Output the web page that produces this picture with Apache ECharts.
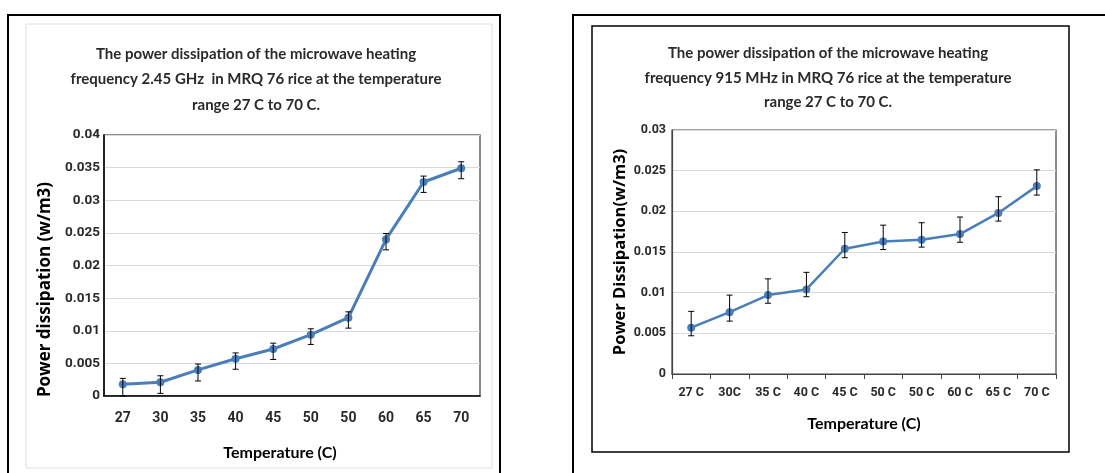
<!DOCTYPE html>
<html style="height: 100%">
    <head>
        <meta charset="utf-8">
        <script type="text/javascript" src="https://cdn.jsdelivr.net/npm/echarts@6/dist/echarts.min.js"></script>
    </head>
    <body style="height: 100%; margin: 0; background: #fff">
        <div id="main" style="width: 1105px; height: 473px"></div>
        <script type="text/javascript">
            // left chart: 2.45 GHz
            var tempsGHz = ['27', '30', '35', '40', '45', '50', '50', '60', '65', '70'];
            var powerGHz = [0.0018, 0.0021, 0.0040, 0.0057, 0.0072, 0.0094, 0.0120, 0.0240, 0.0328, 0.0349];
            var errLowGHz = [0.0000, 0.0004, 0.0023, 0.0041, 0.0056, 0.0079, 0.0104, 0.0224, 0.0312, 0.0333];
            var errHighGHz = [0.0027, 0.0031, 0.0049, 0.0066, 0.0081, 0.0103, 0.0129, 0.0249, 0.0337, 0.0359];

            // right chart: 915 MHz
            var tempsMHz = ['27 C', '30C', '35 C', '40 C', '45 C', '50 C', '50 C', '60 C', '65 C', '70 C'];
            var powerMHz = [0.0057, 0.0076, 0.0097, 0.0104, 0.0154, 0.0163, 0.0165, 0.0172, 0.0198, 0.0231];
            var errLowMHz = [0.0047, 0.0065, 0.0087, 0.0095, 0.0143, 0.0153, 0.0156, 0.0162, 0.0188, 0.0220];
            var errHighMHz = [0.0077, 0.0097, 0.0117, 0.0125, 0.0174, 0.0183, 0.0186, 0.0193, 0.0218, 0.0251];

            var font = 'Lato';
            var tickFont = 'Roboto';
            var textCol = '#2a2a2a';
            var blue = '#4a7ebb';

            function errData(low, high) {
                return low.map(function (v, i) { return [i, v, high[i]]; });
            }

            function errRender(params, api) {
                var lo = api.coord([api.value(0), api.value(1)]);
                var hi = api.coord([api.value(0), api.value(2)]);
                var s = { stroke: '#000', lineWidth: 1 };
                return {
                    type: 'group',
                    children: [
                        { type: 'line', shape: { x1: lo[0], y1: lo[1], x2: hi[0], y2: hi[1] }, style: s },
                        { type: 'line', shape: { x1: lo[0] - 3, y1: lo[1], x2: lo[0] + 3, y2: lo[1] }, style: s },
                        { type: 'line', shape: { x1: hi[0] - 3, y1: hi[1], x2: hi[0] + 3, y2: hi[1] }, style: s }
                    ]
                };
            }

            var myChart = echarts.init(document.getElementById('main'));
            myChart.setOption({
                backgroundColor: '#fff',
                animation: false,
                graphic: [
                    { type: 'rect', shape: { x: 8, y: 15, width: 492, height: 470 }, style: { fill: 'none', stroke: '#000', lineWidth: 2 } },
                    { type: 'rect', shape: { x: 26, y: 24, width: 466, height: 444 }, style: { fill: 'none', stroke: '#e0e0e0', lineWidth: 1 } },
                    { type: 'rect', shape: { x: 573, y: 15, width: 560, height: 470 }, style: { fill: 'none', stroke: '#000', lineWidth: 2 } },
                    { type: 'rect', shape: { x: 592, y: 26, width: 477, height: 426 }, style: { fill: 'none', stroke: '#000', lineWidth: 1.5 } }
                ],
                title: [
                    {
                        text: 'The power dissipation of the microwave heating\nfrequency 2.45 GHz  in MRQ 76 rice at the temperature\nrange 27 C to 70 C.',
                        left: 251, top: 36, textAlign: 'center',
                        textStyle: { fontFamily: font, fontSize: 15, fontWeight: 'bold', color: textCol, lineHeight: 25.5, align: 'center' }
                    },
                    {
                        text: 'The power dissipation of the microwave heating\nfrequency 915 MHz in MRQ 76 rice at the temperature\nrange 27 C to 70 C.',
                        left: 823, top: 36, textAlign: 'center',
                        textStyle: { fontFamily: font, fontSize: 15, fontWeight: 'bold', color: textCol, lineHeight: 24.5, align: 'center' }
                    }
                ],
                grid: [
                    { left: 104, top: 135, width: 376, height: 261, show: true, borderColor: '#666', borderWidth: 1.5 },
                    { left: 672, top: 130, width: 384, height: 244, show: true, borderColor: '#444', borderWidth: 1.2 }
                ],
                xAxis: [
                    {
                        gridIndex: 0, type: 'category', data: tempsGHz,
                        name: 'Temperature (C)', nameLocation: 'middle', nameGap: 49,
                        nameTextStyle: { fontFamily: font, fontSize: 16, fontWeight: 'bold', color: '#000', padding: [0, 24, 0, 0] },
                        axisLine: { lineStyle: { color: '#000', width: 1.5 } },
                        axisTick: { show: false },
                        axisLabel: { fontFamily: tickFont, fontSize: 14, fontWeight: 'bold', color: textCol, margin: 15 }
                    },
                    {
                        gridIndex: 1, type: 'category', data: tempsMHz,
                        name: 'Temperature (C)', nameLocation: 'middle', nameGap: 42,
                        nameTextStyle: { fontFamily: font, fontSize: 16, fontWeight: 'bold', color: '#000' },
                        axisLine: { lineStyle: { color: '#444', width: 1.2 } },
                        axisTick: { show: true, length: 5, lineStyle: { color: '#444' } },
                        axisLabel: { fontFamily: tickFont, fontSize: 12.5, fontWeight: 'bold', color: textCol, margin: 12 }
                    }
                ],
                yAxis: [
                    {
                        gridIndex: 0, type: 'value', min: 0, max: 0.04, interval: 0.005,
                        name: 'Power dissipation (w/m3)', nameLocation: 'middle', nameGap: 50,
                        nameTextStyle: { fontFamily: 'Open Sans', fontSize: 17, fontWeight: 'bold', color: '#000', padding: [0, 48, 0, 0] },
                        axisLine: { show: true, lineStyle: { color: '#000', width: 1.5 } },
                        axisTick: { show: false },
                        splitLine: { lineStyle: { color: '#d9d9d9', width: 1.2 } },
                        axisLabel: { fontFamily: tickFont, fontSize: 13.5, fontWeight: 'bold', color: textCol, margin: 4 }
                    },
                    {
                        gridIndex: 1, type: 'value', min: 0, max: 0.03, interval: 0.005,
                        name: 'Power Dissipation(w/m3)', nameLocation: 'middle', nameGap: 43,
                        nameTextStyle: { fontFamily: 'Open Sans', fontSize: 16.5, fontWeight: 'bold', color: '#000' },
                        axisLine: { show: true, lineStyle: { color: '#444', width: 1.2 } },
                        axisTick: { show: false },
                        splitLine: { lineStyle: { color: '#d9d9d9', width: 1 } },
                        axisLabel: { fontFamily: tickFont, fontSize: 12.5, fontWeight: 'bold', color: textCol, margin: 6 }
                    }
                ],
                series: [
                    {
                        type: 'line', xAxisIndex: 0, yAxisIndex: 0, data: powerGHz,
                        symbol: 'circle', symbolSize: 8,
                        lineStyle: { color: blue, width: 3 }, itemStyle: { color: blue }, z: 3
                    },
                    {
                        type: 'custom', xAxisIndex: 0, yAxisIndex: 0, data: errData(errLowGHz, errHighGHz),
                        renderItem: errRender, z: 4
                    },
                    {
                        type: 'line', xAxisIndex: 1, yAxisIndex: 1, data: powerMHz,
                        symbol: 'circle', symbolSize: 8,
                        lineStyle: { color: blue, width: 2.5 }, itemStyle: { color: blue }, z: 3
                    },
                    {
                        type: 'custom', xAxisIndex: 1, yAxisIndex: 1, data: errData(errLowMHz, errHighMHz),
                        renderItem: errRender, z: 4
                    }
                ]
            });
        </script>
    </body>
</html>
